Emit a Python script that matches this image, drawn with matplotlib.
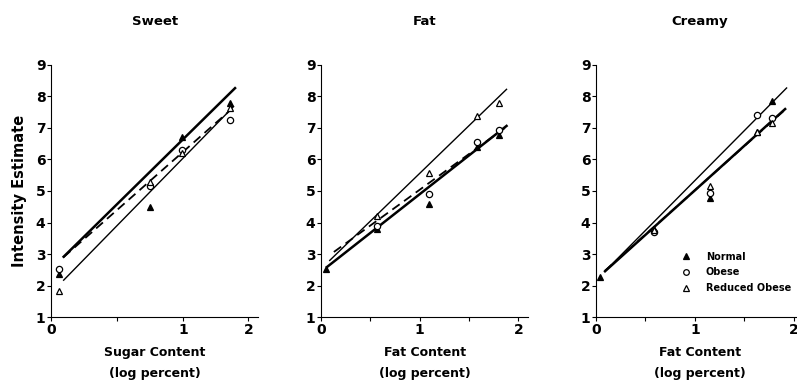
import matplotlib
matplotlib.use("Agg")
import matplotlib.pyplot as plt
import numpy as np

plt.rcParams['font.family'] = ['DejaVu Sans']
plt.rcParams['font.weight'] = 'bold'

# panel titles and axis labels
titles = ['Sweet', 'Fat', 'Creamy']
xlabels = ['Sugar Content\n(log percent)', 'Fat Content\n(log percent)', 'Fat Content\n(log percent)']
groups = ['Normal', 'Obese', 'Reduced Obese']

# x tick positions / labels (first panel has uneven tick labels)
xtick_pos = [[0, 0.67, 1.34, 2.0], [0, 0.5, 1, 1.5, 2], [0, 0.5, 1, 1.5, 2]]
xtick_lab = [['0', '', '1', '2'], ['0', '', '1', '', '2'], ['0', '', '1', '', '2']]

# data points
sweet_x = [0.078, 1.0, 1.33, 1.81]
sweet_normal = [2.36, 4.48, 6.70, 7.80]
sweet_obese = [2.54, 5.15, 6.30, 7.25]
sweet_reduced = [1.82, 5.30, 6.22, 7.62]

fat_x = [0.054, 0.57, 1.09, 1.585, 1.80]
fat_normal = [2.51, 3.78, 4.58, 6.40, 6.78]
fat_obese = [np.nan, 3.90, 4.92, 6.56, 6.93]
fat_reduced = [np.nan, 4.20, 5.56, 7.38, 7.78]

creamy_x = [0.041, 0.586, 1.155, 1.635, 1.78]
creamy_normal = [2.27, 3.80, 4.78, 6.88, 7.86]
creamy_obese = [np.nan, 3.71, 4.94, 7.41, 7.33]
creamy_reduced = [np.nan, 3.75, 5.17, 6.86, 7.17]

# fitted lines: (intercept, slope) per group, and x extent
sweet_fit = [(2.52, 3.08), (2.55, 2.76), (1.76, 3.20)]
sweet_span = [(0.128, 1.865), (0.128, 1.83), (0.128, 1.85)]
fat_fit = [(2.44, 2.46), (2.77, 2.27), (2.53, 3.03)]
fat_span = [(0.06, 1.88), (0.13, 1.90), (0.088, 1.88)]
creamy_fit = [(2.20, 2.82), (2.22, 2.80), (2.17, 3.16)]
creamy_span = [(0.09, 1.915), (0.09, 1.90), (0.09, 1.93)]

panels = [
    (sweet_x, [sweet_normal, sweet_obese, sweet_reduced], sweet_fit, sweet_span),
    (fat_x, [fat_normal, fat_obese, fat_reduced], fat_fit, fat_span),
    (creamy_x, [creamy_normal, creamy_obese, creamy_reduced], creamy_fit, creamy_span),
]

markers = [dict(marker='^', mfc='black', mec='black'),
           dict(marker='o', mfc='white', mec='black'),
           dict(marker='^', mfc='white', mec='black')]
line_styles = [dict(ls='-', lw=1.8), dict(ls=(0, (5, 3)), lw=1.3), dict(ls='-', lw=1.0)]

fig = plt.figure(figsize=(7.97, 3.82), dpi=100)
lefts = [0.064, 0.4028, 0.748]

for i, (xs, ys, fits, spans) in enumerate(panels):
    ax = fig.add_axes([lefts[i], 0.170, 0.26, 0.660])
    for g in range(3):
        b, m = fits[g]
        xl = np.array(spans[g])
        ax.plot(xl, b + m * xl, color='black', **line_styles[g])
    for g in range(3):
        ax.plot(xs, ys[g], ls='none', ms=4.5, mew=0.9, label=groups[g], **markers[g])

    ax.set_xlim(0, 2.1)
    ax.set_ylim(1, 9)
    ax.set_yticks(range(1, 10))
    ax.set_xticks(xtick_pos[i])
    ax.set_xticklabels(xtick_lab[i])
    ax.spines['top'].set_visible(False)
    ax.spines['right'].set_visible(False)
    ax.tick_params(labelsize=10, length=3, width=0.8, pad=1)
    for lab in ax.get_xticklabels() + ax.get_yticklabels():
        lab.set_fontweight('bold')
    ax.set_title(titles[i], fontsize=9.5, fontweight='bold', pad=29)
    ax.set_xlabel(xlabels[i], fontsize=9, fontweight='bold', linespacing=1.75, labelpad=7)
    if i == 0:
        ax.set_ylabel('Intensity Estimate', fontsize=10.5, fontweight='bold', labelpad=6)
    if i == 2:
        ax.legend(loc='lower left', bbox_to_anchor=(0.37, 0.06), frameon=False,
                  fontsize=7, handletextpad=1.5, labelspacing=0.6, markerscale=0.9,
                  handlelength=1.0)

fig.savefig('out.png', dpi=100)
